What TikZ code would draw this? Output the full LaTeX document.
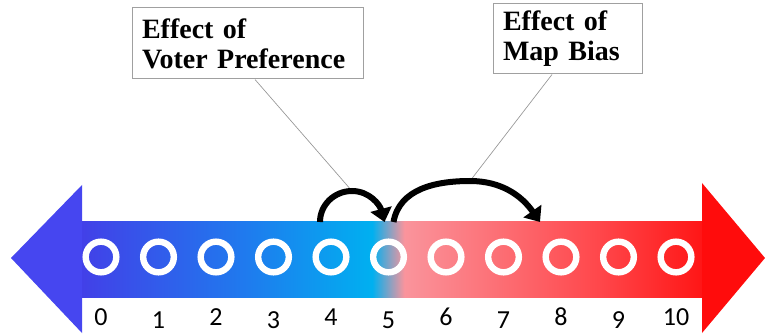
\documentclass[tikz,border=0pt]{standalone}
\usepackage{fontspec}
\setmainfont{Liberation Serif}
\newfontfamily\numfont{Carlito}
\usetikzlibrary{positioning,calc,arrows.meta}
\definecolor{barblue}{RGB}{66,64,232}
\definecolor{barmidblue}{RGB}{30,124,238}
\definecolor{barcyan}{RGB}{0,176,240}
\definecolor{barpink}{RGB}{250,148,156}
\definecolor{barmidred}{RGB}{255,70,74}
\definecolor{barred}{RGB}{255,22,22}
\definecolor{headblue}{RGB}{70,70,240}
\definecolor{headred}{RGB}{255,12,12}
\definecolor{boxgray}{RGB}{160,160,160}
\definecolor{leadgray}{RGB}{150,150,150}
\pgfdeclarehorizontalshading{biasbar}{100bp}{color(0bp)=(barblue); color(25bp)=(barblue);
  color(38.5bp)=(barmidblue); color(48.4bp)=(barcyan); color(51bp)=(barpink);
  color(66.8bp)=(barmidred); color(75bp)=(barred); color(100bp)=(barred)}
\tikzset{
  votebox/.style={draw=boxgray, line width=0.75pt, fill=white, align=left,
    inner xsep=7.5pt, inner ysep=0pt, font=\fontsize{21}{22.5}\selectfont\bfseries},
  leader/.style={draw=leadgray, line width=0.5pt},
  hoparrow/.style={-{Triangle[length=10pt,width=16pt]}, line width=4.5pt},
  ringmark/.style={circle, draw=white, line width=4.8pt, minimum size=23pt, inner sep=0pt},
  ticklabel/.style={anchor=base, inner sep=0pt, font=\numfont\fontsize{19.5}{19.5}\selectfont},
}
\begin{document}
\begin{tikzpicture}[x=0.75pt, y=-0.75pt]
  \useasboundingbox (0,0) rectangle (765,335);

  % the scale bar
  \shade[shading=biasbar] (82,221) rectangle (702,297);
  \fill[headblue] (82,185) -- (11,258) -- (82,333) -- cycle;
  \fill[headred] (702,183) -- (765,258) -- (702,333) -- cycle;

  % seats and numbers
  \foreach \i in {0,...,10}{
    \node[ringmark] (c\i) at ({101+57.5*\i},257) {};
    \node[ticklabel] (l\i) at ({101+57.5*\i},{325+3*mod(\i,2)}) {\i};
  }

  % hops
  \coordinate (hop1a) at ($(c4)+(-11,-35)$);
  \coordinate (hop1b) at ($(c5)+(-4,-35)$);
  \coordinate (pk1) at (352,191);
  \coordinate (hop2a) at ($(c5)+(5,-35)$);
  \coordinate (hop2b) at ($(c8)+(-21,-35)$);
  \coordinate (pk2) at (470,181);

  % labels
  \node[votebox, text width=158.25pt, minimum height=53.25pt] (vp) at (247.5,43.5)
    {Effect of\\Voter Preference};
  \node[votebox, text width=96.75pt, minimum height=52.5pt] (mb) at (567.5,39)
    {Effect of\\Map Bias};

  \draw[leader] ($(vp.south)+(7.5,0)$) -- (pk1);
  \draw[leader] ($(mb.south)+(-15.5,0)$) -- (pk2);

  \draw[hoparrow] (hop1a) to[out=90,in=180] (pk1) to[out=0,in=105] (hop1b);
  \draw[hoparrow] (hop2a) to[out=80,in=180] (pk2) to[out=0,in=125] (hop2b);
\end{tikzpicture}
\end{document}
